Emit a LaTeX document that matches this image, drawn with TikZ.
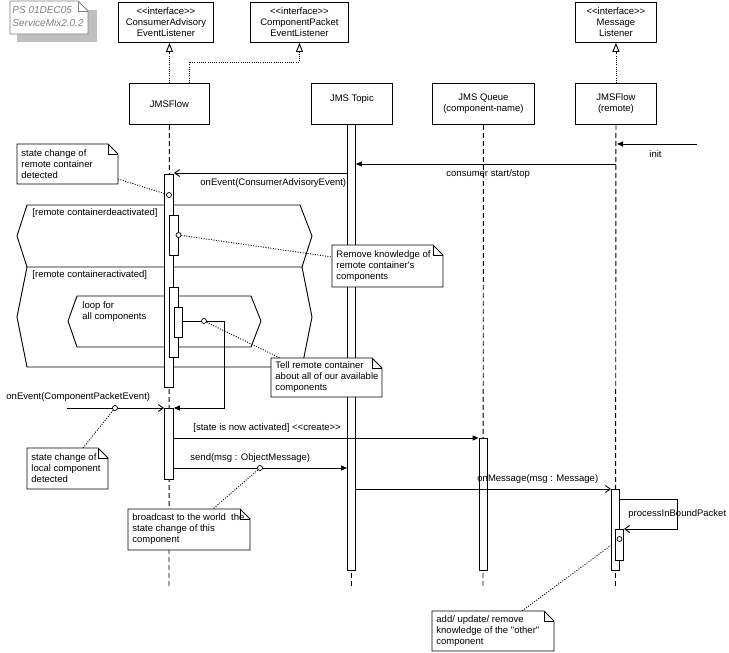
\documentclass[tikz,border=0pt]{standalone}
\usepackage{fontspec}
\setmainfont{Liberation Sans}
\usetikzlibrary{arrows.meta}
\newcommand{\UMLnotebox}[6]{%
  \draw[fill=white] (#2,#3) -- ({#4-10},#3) -- (#4,{#3+10}) -- (#4,#5) -- (#2,#5) -- cycle;
  \draw ({#4-10},#3) -- ({#4-10},{#3+10}) -- (#4,{#3+10});
  \node[notetxt] (#1) at ({#2+4},{(#3+#5)/2}) {#6};
}
\begin{document}
\begin{tikzpicture}[x=1pt,y=-1pt,line width=0.9pt,
  font=\fontsize{9.5}{11}\selectfont,
  lifeline/.style={dash pattern=on 5pt off 3pt},
  realize/.style={dash pattern=on 1pt off 1.2pt,-{Triangle[open,length=9pt,width=7pt]}},
  notelink/.style={dash pattern=on 1pt off 1.5pt},
  bar/.style={draw,fill=white,inner sep=0pt,minimum width=9pt,anchor=north},
  syncmsg/.style={-{Triangle[length=6pt,width=5pt]}},
  openmsg/.style={-{Straight Barb[length=5pt,width=7pt]}},
  lbl/.style={anchor=west,inner sep=0pt},
  notetxt/.style={anchor=west,align=left,inner sep=0pt},
  head/.style={draw,fill=white,inner sep=1pt,align=center,anchor=north west},
  dotmark/.style={circle,draw,fill=white,inner sep=0pt,minimum size=5pt,line width=0.7pt}
]
\useasboundingbox (0,0) rectangle (729,653);

% PS note with shadow
\fill[black!25] (17,10) rectangle (97,42);
\draw[gray,fill=white] (10,1) -- (78,1) -- (88,11) -- (88,34) -- (10,34) -- cycle;
\draw[gray] (78,1) -- (78,11) -- (88,11);
\node[notetxt,text=gray,font={\fontsize{10}{13}\selectfont\itshape}] (ps) at (12,17) {PS 01DEC05\\ServiceMix2.0.2};

% heads
\node[head,minimum width=95pt,minimum height=40pt] (ifa) at (118,2) {<{}<interface>{}>\\ConsumerAdvisory\\EventListener};
\node[head,minimum width=98pt,minimum height=40pt] (ifb) at (250,2) {<{}<interface>{}>\\ComponentPacket\\EventListener};
\node[head,minimum width=81pt,minimum height=40pt] (ifc) at (575,2) {<{}<interface>{}>\\Message\\Listener};
\node[head,minimum width=80pt,minimum height=41pt] (jf) at (129,83) {JMSFlow};
\node[head,minimum width=81pt,minimum height=41pt] (topic) at (311,83) {JMS Topic\\\mbox{}};
\node[head,minimum width=102pt,minimum height=41pt] (queue) at (432,83) {JMS Queue\\(component-name)};
\node[head,minimum width=81pt,minimum height=41pt] (remote) at (575,83) {JMSFlow\\(remote)};

% combined fragments
\draw (27,205) -- (300,205) -- (312,236) -- (302,267) -- (27,267) -- (17,236) -- cycle;
\draw (302,267) -- (312,317) -- (302,367) -- (27,367) -- (17,317) -- (27,267);
\draw (77,296) -- (251,296) -- (261,321) -- (251,347) -- (77,347) -- (68,321) -- cycle;

% lifelines
\coordinate (jfend) at (169,587);
\coordinate (tend) at (351.5,587);
\coordinate (qend) at (483,587);
\coordinate (rend) at (615.5,587);
\draw[lifeline] (jf.south) -- (jfend);
\draw[lifeline] (topic.south) -- (tend);
\draw[lifeline] (queue.south) -- (qend);
\draw[lifeline] (remote.south) -- (rend);

% realizations
\coordinate (jfr) at (189,83);
\draw[realize] (jf.north) -- (ifa.south -| jf.north);
\draw[realize] (jfr) |- (ifb.south |- 0,62) -- (ifb.south);
\draw[realize] (remote.north) -- (ifc.south);

% circle on remote nested bar (link drawn under bars)
\coordinate (n6p) at (522,611);
\coordinate (c6pos) at (619.5,539);
\draw[notelink] (c6pos) -- (n6p);

% activation bars
\node[bar,minimum height=213pt] (b1) at (169,174) {};
\node[bar,minimum height=40pt] (b1a) at (174,215) {};
\node[bar,minimum height=70pt] (b1b) at (174,287) {};
\node[bar,minimum height=30pt,minimum width=8pt] (b1c) at (178.5,307) {};
\node[bar,minimum height=71pt] (b2) at (169,408) {};
\node[bar,minimum height=446pt,minimum width=8pt] (tb) at (351.5,124) {};
\node[bar,minimum height=132pt,minimum width=8pt] (qb) at (483,438) {};
\node[bar,minimum height=81pt,minimum width=8pt] (rb) at (615.5,489) {};
\node[bar,minimum height=31pt,minimum width=8pt] (rb2) at (619.5,529) {};

% messages
\coordinate (initsrc) at (697,144);
\coordinate (initdst) at (617,144);
\draw[syncmsg] (initsrc) -- (initdst);
\draw[syncmsg] (remote.south |- 0,164) -- (tb.east |- 0,164);
\draw[openmsg] (tb.west |- 0,173) -- (b1.east |- 0,173);
\draw[syncmsg] (b1c.east |- 0,321) -- ++(41,0) |- (b2.east |- 0,408);
\coordinate (cpsrc) at (67,408);
\draw[openmsg] (cpsrc) -- (b2.west |- cpsrc);
\draw[syncmsg] (b2.east |- 0,438) -- (qb.west |- 0,438);
\draw[syncmsg] (b2.east |- 0,468) -- (tb.west |- 0,468);
\draw[openmsg] (tb.east |- 0,489) -- (rb.west |- 0,489);
\draw[openmsg] (rb.east |- 0,499) -- ++(57,0) |- (rb2.east |- 0,529);

% circles and note links
\node[dotmark] (c1) at (169,195) {};
\node[dotmark] (c2) at (178.5,235) {};
\node[dotmark] (c3) at (204,321) {};
\node[dotmark] (c4) at (115,408) {};
\node[dotmark] (c5) at (260,468) {};
\node[dotmark] (c6) at (c6pos) {};
\coordinate (n1p) at (118,179);
\coordinate (n2p) at (332,257);
\coordinate (n3p) at (280,358);
\coordinate (n4p) at (83,448);
\coordinate (n5p) at (213,509);
\draw[notelink] (n1p) -- (c1);
\draw[notelink] (c2) -- (n2p);
\draw[notelink] (c3) -- (n3p);
\draw[notelink] (c4) -- (n4p);
\draw[notelink] (c5) -- (n5p);

% notes
\UMLnotebox{n1}{17}{144}{118}{184}{state change of\\remote container\\detected}
\UMLnotebox{n2}{332}{245}{443}{287}{Remove knowledge of\\remote container\textquotesingle s\\components}
\UMLnotebox{n3}{271}{358}{382}{397}{Tell remote container\\about all of our available\\components}
\UMLnotebox{n4}{27}{448}{108}{489}{state change of\\local component\\detected}
\UMLnotebox{n5}{128}{509}{250}{550}{broadcast to the world\ \ the\\state change of this\\component}
\UMLnotebox{n6}{432}{611}{554}{651}{add/ update/ remove\\knowledge of the \textquotedbl other\textquotedbl\\component}

% labels
\node[lbl] (linit) at (649,154) {init};
\node[lbl] (lcons) at (446,174) {consumer start/stop};
\node[lbl] (lca) at (200,183) {onEvent(ConsumerAdvisoryEvent)};
\node[lbl] (ldeact) at (32,213) {[remote containerdeactivated]};
\node[lbl] (lact) at (32,275) {[remote containeractivated]};
\node[notetxt] (lloop) at (82,311.5) {loop for\\all components};
\node[lbl] (lcp) at (6,397) {onEvent(ComponentPacketEvent)};
\node[lbl] (lcreate) at (193,428) {[state is now activated] <{}<create>{}>};
\node[lbl] (lsend) at (190,458) {send(msg : ObjectMessage)};
\node[lbl] (lonm) at (477,479) {onMessage(msg : Message)};
\node[lbl] (lproc) at (628,514) {processInBoundPacket};
\end{tikzpicture}
\end{document}
